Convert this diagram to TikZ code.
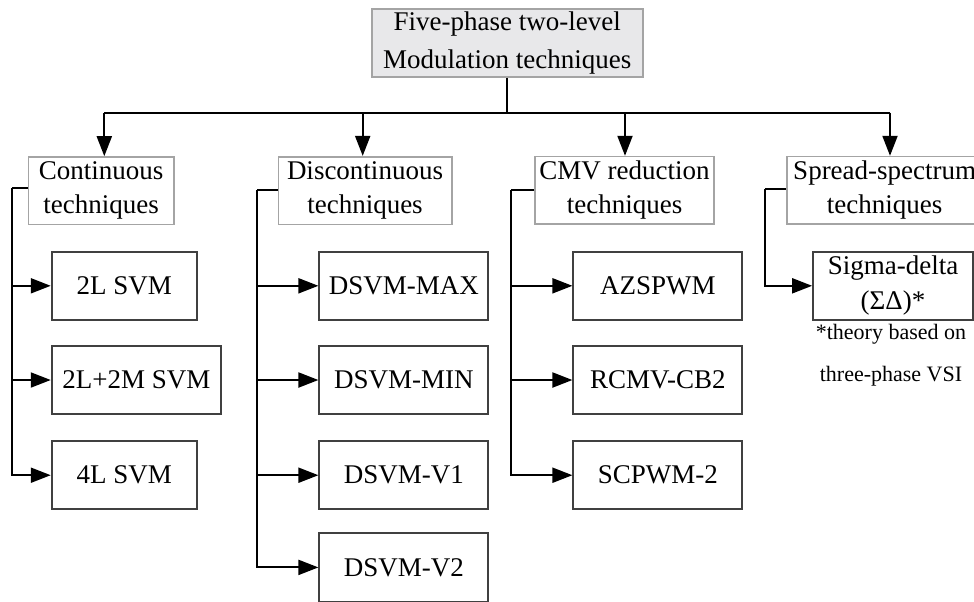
\documentclass[tikz,border=0pt]{standalone}
\usepackage{fontspec}
\setmainfont{Liberation Serif}
\usepackage{xcolor}
\usetikzlibrary{arrows.meta}

\definecolor{topfill}{HTML}{E8E8EA}
\definecolor{lightedge}{HTML}{A4A4A4}
\definecolor{darkedge}{HTML}{404040}

\tikzset{
  topbox/.style={draw=lightedge, fill=topfill, line width=0.8pt, inner sep=0pt,
    minimum width=135.5pt, minimum height=34pt, align=center,
    font=\fontsize{13.5pt}{18.5pt}\selectfont},
  groupbox/.style={draw=lightedge, line width=0.8pt, inner sep=0pt,
    minimum height=33.8pt, align=center,
    font=\fontsize{13.5pt}{17pt}\selectfont},
  leafbox/.style={draw=darkedge, line width=0.9pt, inner sep=0pt,
    minimum height=34.15pt, align=center,
    font=\fontsize{13.5pt}{17.5pt}\selectfont},
  link/.style={line width=1pt, -{Triangle[length=10pt,width=7.5pt]}},
  wire/.style={line width=1pt}
}

\begin{document}
\begin{tikzpicture}[x=0.5pt,y=-0.5pt]

\clip (0,0) rectangle (974,601);

% top of the tree
\node[topbox] (top) at (507.2,43) {Five-phase two-level\\Modulation techniques};

% four groups
\node[groupbox, minimum width=72.85pt] (cont) at (101.2,190.8) {Continuous\\techniques};
\node[groupbox, minimum width=86.7pt] (disc) at (365,190.5) {Discontinuous\\techniques};
\node[groupbox, minimum width=89.5pt] (cmv) at (624.5,190.4) {CMV reduction\\techniques};
\node[groupbox, minimum width=98pt] (spread) at (884.7,190.4) {Spread-spectrum\\techniques};

% bus under the top box
\coordinate (j1) at (104.3,112.7);
\coordinate (j2) at (362.7,112.7);
\coordinate (j3) at (625,112.7);
\coordinate (j4) at (890,112.7);

\draw[wire] (top.south) -- (top.south |- j1);
\draw[wire] (j1) -- (j4);
\draw[link] (j1) -- (j1 |- cont.north);
\draw[link] (j2) -- (j2 |- disc.north);
\draw[link] (j3) -- (j3 |- cmv.north);
\draw[link] (j4) -- (j4 |- spread.north);

% continuous
\node[leafbox, minimum width=72.65pt] (c1) at (124.3,285.8) {2L SVM};
\node[leafbox, minimum width=84.65pt] (c2) at (136.3,380) {2L+2M SVM};
\node[leafbox, minimum width=72.65pt] (c3) at (124.3,475.2) {4L SVM};

\coordinate (contbus) at (11.7,188.3);
\draw[wire] (cont.west |- contbus) -- (contbus);
\draw[link] (contbus) |- (c3.west);
\draw[link] (contbus |- c1.west) -- (c1.west);
\draw[link] (contbus |- c2.west) -- (c2.west);

% discontinuous
\node[leafbox, minimum width=84.5pt] (d1) at (403.8,285.8) {DSVM-MAX};
\node[leafbox, minimum width=84.5pt] (d2) at (403.8,380) {DSVM-MIN};
\node[leafbox, minimum width=84.5pt] (d3) at (403.8,475.2) {DSVM-V1};
\node[leafbox, minimum width=84.5pt] (d4) at (403.8,567.4) {DSVM-V2};

\coordinate (discbus) at (257.3,190);
\draw[wire] (disc.west |- discbus) -- (discbus);
\draw[link] (discbus) |- (d4.west);
\draw[link] (discbus |- d1.west) -- (d1.west);
\draw[link] (discbus |- d2.west) -- (d2.west);
\draw[link] (discbus |- d3.west) -- (d3.west);

% CMV reduction
\node[leafbox, minimum width=84.5pt] (m1) at (657.8,285.8) {AZSPWM};
\node[leafbox, minimum width=84.5pt] (m2) at (657.8,380) {RCMV-CB2};
\node[leafbox, minimum width=84.5pt] (m3) at (657.8,475.2) {SCPWM-2};

\coordinate (cmvbus) at (511,190);
\draw[wire] (cmv.west |- cmvbus) -- (cmvbus);
\draw[link] (cmvbus) |- (m3.west);
\draw[link] (cmvbus |- m1.west) -- (m1.west);
\draw[link] (cmvbus |- m2.west) -- (m2.west);

% spread spectrum
\node[leafbox, minimum width=80pt] (s1) at (893,285.8) {Sigma-delta\\(ΣΔ)*};
\node[align=center, inner sep=0pt, font=\fontsize{11pt}{21pt}\selectfont] (note) at (891,355) {*theory based on\\three-phase VSI};

\coordinate (sprbus) at (765,189);
\draw[wire] (spread.west |- sprbus) -- (sprbus);
\draw[link] (sprbus) |- (s1.west);

\end{tikzpicture}
\end{document}
